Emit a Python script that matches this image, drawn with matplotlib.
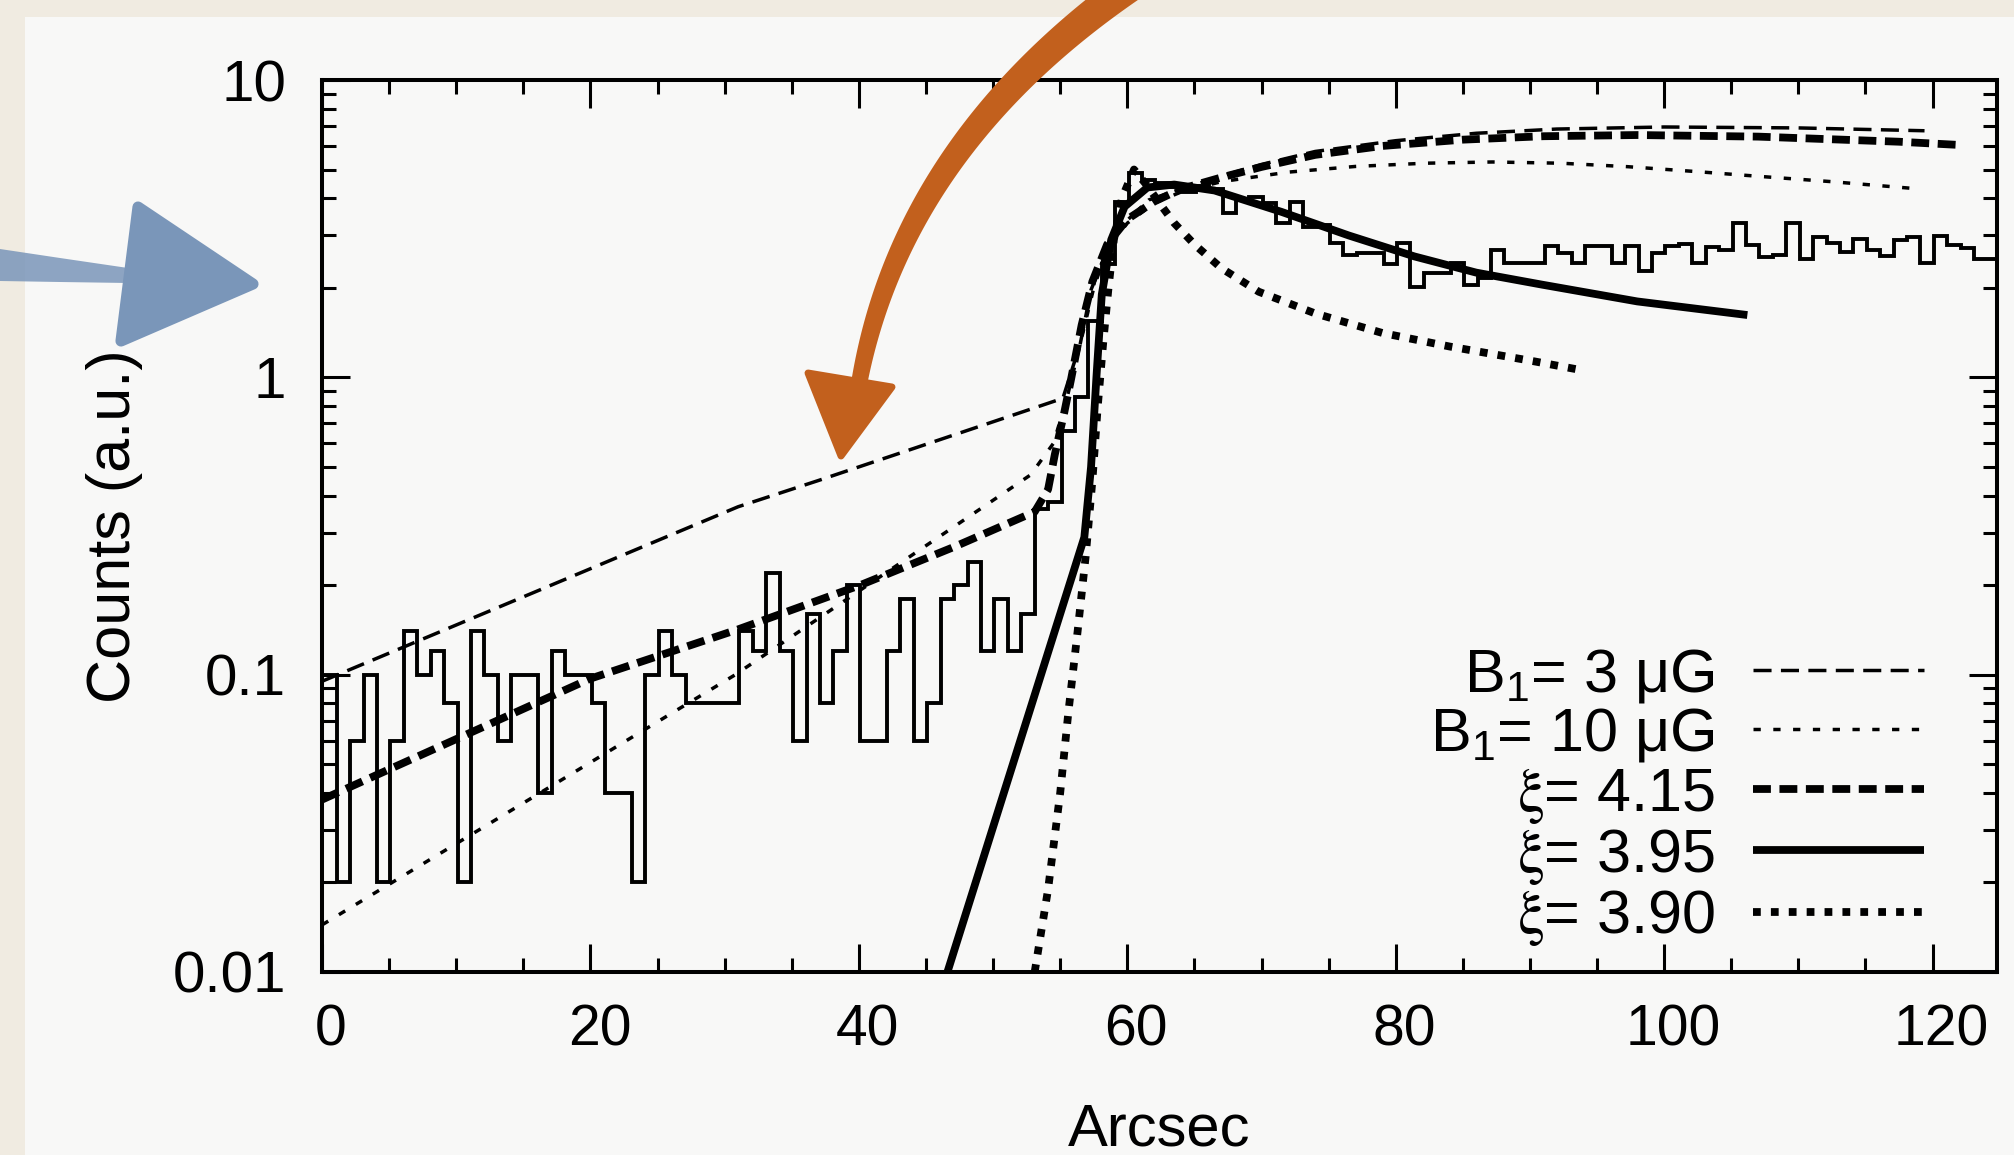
import numpy as np
import matplotlib
matplotlib.use("Agg")
import matplotlib.pyplot as plt
from matplotlib.patches import Polygon, Rectangle
from matplotlib.ticker import FixedLocator, FixedFormatter, MultipleLocator, LogLocator, NullFormatter
import matplotlib.transforms as mtransforms

plt.rcParams['font.family'] = ['Liberation Sans', 'DejaVu Sans']
plt.rcParams['mathtext.fontset'] = 'stix'

# ---------------- data ----------------
bin_width = 1.0
bin_offset = 0.1
x_max = 124.8
hist_counts = [
    0.10, 0.02, 0.06, 0.10, 0.02, 0.06, 0.14, 0.10, 0.12, 0.08,
    0.02, 0.14, 0.10, 0.06, 0.10, 0.10, 0.04, 0.12, 0.10, 0.10,
    0.08, 0.04, 0.04, 0.02, 0.10, 0.14, 0.10, 0.08, 0.08, 0.08,
    0.08, 0.14, 0.12, 0.22, 0.12, 0.06, 0.16, 0.08, 0.12, 0.20,
    0.06, 0.06, 0.12, 0.18, 0.06, 0.08, 0.18, 0.20, 0.24, 0.12,
    0.18, 0.12, 0.16, 0.36, 0.38, 0.66, 0.86, 1.55, 2.40, 3.90,
    4.85, 4.60, 4.50, 4.35, 4.20, 4.40, 4.30, 3.56, 3.95, 4.05,
    3.85, 3.30, 3.90, 3.20, 3.25, 2.82, 2.58, 2.61, 2.61, 2.40,
    2.82, 2.02, 2.24, 2.24, 2.42, 2.05, 2.15, 2.68, 2.42, 2.42,
    2.42, 2.76, 2.61, 2.43, 2.76, 2.76, 2.42, 2.76, 2.27, 2.61,
    2.76, 2.80, 2.43, 2.74, 2.68, 3.30, 2.79, 2.53, 2.57, 3.31,
    2.50, 2.97, 2.84, 2.64, 2.91, 2.68, 2.55, 2.90, 2.97, 2.43,
    2.98, 2.79, 2.73, 2.50,
]

b1_3_x = [0, 31, 37, 55.2, 56.5, 57.3, 59.0, 61.6, 64, 67, 70, 74, 80, 86, 92, 100, 110, 119.4]
b1_3_y = [0.095, 0.367, 0.45, 0.85, 1.3, 1.97, 3.06, 3.95, 4.3, 4.75, 5.2, 5.75, 6.25, 6.62, 6.84, 6.95, 6.9, 6.75]

b1_10_x = [0, 30.8, 52.8, 54.5, 55.5, 56.5, 57.5, 58.5, 60, 62, 64, 67, 72, 77, 82.2, 87.2, 92.3, 97.3, 102.4, 107.4, 112.5, 118.5]
b1_10_y = [0.0144, 0.1, 0.47, 0.6, 0.85, 1.3, 2.0, 2.7, 3.3, 3.85, 4.2, 4.55, 4.9, 5.12, 5.25, 5.3, 5.25, 5.11, 4.92, 4.73, 4.55, 4.32]

xi415_x = [0, 20, 31, 40.1, 47.1, 53.1, 54.1, 54.6, 55.3, 55.8, 56.6, 57.4, 58.5, 60, 62, 64, 67, 70, 74, 79, 85, 91, 98, 107, 117.5, 122.2]
xi415_y = [0.038, 0.097, 0.142, 0.2, 0.269, 0.353, 0.42, 0.55, 0.76, 0.98, 1.5, 2.1, 2.8, 3.4, 3.9, 4.3, 4.7, 5.1, 5.6, 6.0, 6.3, 6.47, 6.53, 6.45, 6.2, 6.04]

xi395_x = [46.6, 56.8, 57.3, 57.7, 58.1, 58.8, 59.8, 61.5, 63.5, 66.5, 71.5, 76.5, 81.4, 86, 90.9, 98, 106.2]
xi395_y = [0.01, 0.29, 0.5, 1.0, 1.9, 2.9, 3.75, 4.35, 4.45, 4.25, 3.6, 3.0, 2.55, 2.25, 2.05, 1.8, 1.62]

xi390_x = [53.1, 54.1, 55.0, 55.6, 56.3, 56.9, 57.4, 57.8, 58.2, 58.6, 59.0, 59.6, 60.5, 61.5, 62.5, 63.5, 65, 67, 69.8, 74, 79, 84, 90.4, 93.7]
xi390_y = [0.01, 0.019, 0.04, 0.074, 0.14, 0.25, 0.45, 0.8, 1.3, 2.0, 2.9, 4.0, 5.0, 4.4, 3.8, 3.3, 2.8, 2.33, 1.94, 1.64, 1.41, 1.27, 1.13, 1.06]

x_ticks = [0, 20, 40, 60, 80, 100, 120]
y_ticks = [0.01, 0.1, 1, 10]
y_tick_labels = ['0.01', '0.1', '1', '10']
legend_labels = [r'$\mathregular{B_1}$= 3 μG', r'$\mathregular{B_1}$= 10 μG',
                 r'$\mathrm{\xi}$= 4.15', r'$\mathrm{\xi}$= 3.95', r'$\mathrm{\xi}$= 3.90']

# ---------------- figure ----------------
W, H = 2014, 1155
DPI = 100
fig = plt.figure(figsize=(W / DPI, H / DPI), dpi=DPI)

bg = fig.add_axes([0, 0, 1, 1], zorder=-10)
bg.set_xlim(0, W); bg.set_ylim(H, 0); bg.axis('off')
bg.add_patch(Rectangle((0, 0), W, H, facecolor='#f0ebe1', edgecolor='none'))
bg.add_patch(Rectangle((25, 17), W - 25, H - 17, facecolor='#f8f8f7', edgecolor='none'))

ax = fig.add_axes([322 / W, 1 - 972 / H, (1997 - 322) / W, (972 - 80) / H])
ax.patch.set_alpha(0)
ax.set_yscale('log')
ax.set_xlim(0, x_max)
ax.set_ylim(0.01, 10)

n = len(hist_counts)
edges = np.concatenate([[0.0], np.arange(1, n) * bin_width + bin_offset, [x_max]])
ax.stairs(hist_counts, edges, baseline=None, color='black', lw=2.8, zorder=3)

thin = 2.5
thick = 5.6
l1, = ax.plot(b1_3_x, b1_3_y, color='black', lw=thin, dashes=(5.2, 2.7), zorder=4)
l2, = ax.plot(b1_10_x, b1_10_y, color='black', lw=thin, dashes=(2.1, 3.6), zorder=4)
l3, = ax.plot(xi415_x, xi415_y, color='black', lw=thick, dashes=(2.3, 1.1), zorder=4)
l4, = ax.plot(xi395_x, xi395_y, color='black', lw=thick, solid_capstyle='butt', zorder=4)
l5, = ax.plot(xi390_x, xi390_y, color='black', lw=thick, dashes=(1.0, 1.3), zorder=4)
for ln in (l1, l2, l3, l5):
    ln.set_dash_capstyle('butt')

for s in ax.spines.values():
    s.set_linewidth(2.9)

ax.xaxis.set_major_locator(FixedLocator(x_ticks))
ax.xaxis.set_minor_locator(MultipleLocator(5))
ax.yaxis.set_major_locator(FixedLocator(y_ticks))
ax.yaxis.set_major_formatter(FixedFormatter(y_tick_labels))
ax.yaxis.set_minor_locator(LogLocator(base=10, subs=np.arange(2, 10)))
ax.yaxis.set_minor_formatter(NullFormatter())
ax.tick_params(which='both', direction='in', top=True, right=True, width=2.2, colors='black')
ax.tick_params(which='major', length=20)
ax.tick_params(which='minor', length=10)
ax.tick_params(axis='x', which='major', labelsize=41, pad=23)
ax.tick_params(axis='y', which='major', labelsize=42, pad=26)

for lbl in ax.get_xticklabels():
    lbl.set_transform(lbl.get_transform() + mtransforms.ScaledTranslation(0.09, 0, fig.dpi_scale_trans))

ax.set_xlabel('Arcsec', fontsize=43)
ax.xaxis.set_label_coords(0.5, -0.146)
ax.set_ylabel('Counts (a.u.)', fontsize=44)
ax.yaxis.set_label_coords(-0.107, 0.5)

leg = ax.legend([l1, l2, l3, l4, l5], legend_labels, loc='lower right',
                bbox_to_anchor=(1924 / W, 1 - 948 / H), bbox_transform=fig.transFigure,
                frameon=False, markerfirst=False, fontsize=44, handlelength=2.8,
                handletextpad=0.62, labelspacing=0.02, borderpad=0, borderaxespad=0)

# ---------------- decorations (hand-drawn arrows) ----------------
ov = fig.add_axes([0, 0, 1, 1], zorder=10)
ov.set_xlim(0, W); ov.set_ylim(H, 0); ov.axis('off'); ov.patch.set_alpha(0)

orange = '#c2601d'
t = np.linspace(0, 1, 80)
P0 = np.array([1130.0, -14.0]); P1 = np.array([898.0, 150.0]); P2 = np.array([858.0, 390.0])
c = ((1 - t) ** 2)[:, None] * P0 + (2 * (1 - t) * t)[:, None] * P1 + (t ** 2)[:, None] * P2
d = (2 * (1 - t))[:, None] * (P1 - P0) + (2 * t)[:, None] * (P2 - P1)
nrm = np.stack([-d[:, 1], d[:, 0]], axis=1)
nrm /= np.linalg.norm(nrm, axis=1)[:, None]
w = 32 * (1 - t) + 16 * t
left = c + nrm * (w / 2)[:, None]
right = c - nrm * (w / 2)[:, None]
ov.add_patch(Polygon(np.vstack([left, right[::-1]]), closed=True, facecolor=orange, edgecolor='none'))
ov.add_patch(Polygon([(808, 373), (892, 387), (841, 456)], closed=True, facecolor=orange,
                     edgecolor=orange, lw=5, joinstyle='round'))

blue = '#7a96b9'
ov.add_patch(Polygon([(0, 249), (60, 258), (128, 268), (128, 283), (60, 282), (0, 281)], closed=True,
                     facecolor=blue, edgecolor='none', alpha=0.85))
ov.add_patch(Polygon([(138, 207), (253, 284), (121, 341)], closed=True, facecolor=blue,
                     edgecolor=blue, lw=8, joinstyle='round'))

fig.savefig('out.png', dpi=DPI)
